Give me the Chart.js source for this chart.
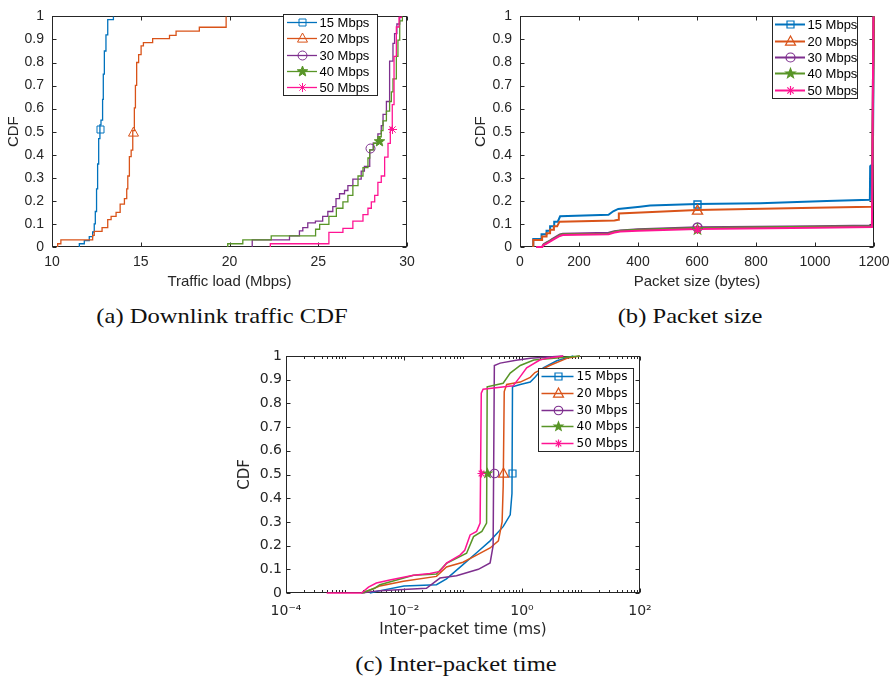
<!DOCTYPE html>
<html><head><meta charset="utf-8">
<script src="https://cdn.jsdelivr.net/npm/chart.js@4/dist/chart.umd.min.js"></script>
<style>
html,body{margin:0;padding:0;background:#fff}
body{width:889px;height:682px;position:relative;overflow:hidden}
canvas{position:absolute;display:block}
.cap{position:absolute;font-family:"Liberation Serif",serif;font-size:21px;line-height:21px;color:#111;white-space:nowrap;transform:translateX(-50%) scaleX(1.17)}
</style></head><body>
<canvas id="ca" width="440" height="300" style="left:0;top:0"></canvas>
<canvas id="cb" width="440" height="300" style="left:460px;top:0"></canvas>
<canvas id="cc" width="440" height="310" style="left:230px;top:340px"></canvas>
<div class="cap" style="left:222px;top:305.5px">(a) Downlink traffic CDF</div>
<div class="cap" style="left:689.5px;top:305.5px">(b) Packet size</div>
<div class="cap" style="left:455.5px;top:654px">(c) Inter-packet time</div>
<script>
// ---------- data ----------
const seriesNames = ['15 Mbps','20 Mbps','30 Mbps','40 Mbps','50 Mbps'];
const yTicks = [0,0.1,0.2,0.3,0.4,0.5,0.6,0.7,0.8,0.9,1];
const trafficTicks = [10,15,20,25,30];
const packetTicks = [0,200,400,600,800,1000,1200];
const interTicks = [1e-4,1e-2,1,1e2];

// (a) Downlink traffic CDF: [Mbps, CDF]
const traffic15 = [[11.54,0],[11.54,0.014],[11.82,0.028],[12.1,0.045],[12.29,0.065],[12.38,0.1],[12.44,0.154],[12.51,0.252],[12.57,0.36],[12.63,0.47],[12.7,0.53],[12.76,0.55],[12.85,0.64],[12.89,0.75],[12.95,0.85],[13.04,0.92],[13.14,0.986],[13.46,1]];
const traffic20 = [[10.32,0],[10.32,0.014],[10.5,0.031],[12.29,0.05],[12.38,0.068],[12.82,0.084],[13.14,0.119],[13.33,0.133],[13.61,0.15],[13.84,0.186],[14.08,0.21],[14.21,0.252],[14.27,0.308],[14.36,0.392],[14.46,0.42],[14.55,0.505],[14.64,0.603],[14.7,0.701],[14.77,0.8],[14.88,0.834],[15.02,0.872],[15.15,0.886],[15.67,0.904],[16.62,0.918],[16.99,0.936],[18.3,0.953],[19.81,1]];
const traffic30 = [[21.28,0],[21.28,0.031],[23.38,0.048],[23.94,0.07],[24.13,0.084],[24.41,0.105],[24.84,0.112],[25.25,0.133],[25.54,0.154],[25.82,0.175],[26.0,0.21],[26.2,0.231],[26.48,0.245],[26.67,0.266],[26.95,0.294],[27.42,0.329],[27.6,0.35],[27.9,0.421],[28.09,0.45],[28.36,0.491],[28.55,0.526],[28.65,0.575],[28.84,0.631],[29.02,0.806],[29.21,0.883],[29.3,0.925],[29.43,0.967],[29.59,1]];
const traffic40 = [[19.9,0],[19.9,0.014],[20.75,0.031],[22.35,0.048],[24.85,0.077],[25.08,0.098],[25.6,0.133],[26.02,0.168],[26.39,0.196],[26.67,0.224],[26.95,0.266],[27.24,0.308],[27.52,0.344],[27.8,0.386],[27.9,0.421],[28.12,0.45],[28.36,0.478],[28.55,0.505],[28.65,0.547],[28.84,0.589],[29.02,0.631],[29.12,0.673],[29.21,0.729],[29.4,0.827],[29.49,0.897],[29.59,0.981],[29.74,1]];
const traffic50 = [[22.3,0],[22.3,0.014],[25.6,0.063],[26.39,0.081],[26.95,0.112],[27.52,0.14],[27.8,0.168],[27.99,0.196],[28.18,0.224],[28.36,0.28],[28.55,0.308],[28.74,0.39],[28.93,0.449],[29.06,0.519],[29.17,0.617],[29.27,0.827],[29.4,0.954],[29.55,0.996],[29.68,1]];
const trafficMarks = [[12.72,0.51],[14.56,0.5],[27.93,0.43],[28.42,0.46],[29.14,0.51]];

// (b) Packet size CDF: [bytes, CDF]
const packet15 = [[45,0],[45,0.035],[73,0.035],[73,0.055],[90,0.055],[90,0.07],[102,0.07],[102,0.09],[116,0.09],[116,0.11],[128,0.11],[136,0.133],[300,0.14],[316,0.155],[333,0.165],[407,0.175],[441,0.18],[600,0.186],[814,0.19],[1040,0.2],[1186,0.205],[1187,0.35],[1196,0.36],[1200,1]];
const packet20 = [[45,0],[45,0.03],[75,0.03],[75,0.045],[90,0.045],[90,0.06],[102,0.06],[102,0.075],[115,0.075],[115,0.09],[126,0.09],[134,0.11],[320,0.115],[333,0.118],[335,0.145],[410,0.15],[600,0.16],[1000,0.17],[1190,0.175],[1193,0.2],[1200,1]];
const packet30 = [[55,0],[75,0],[80,0.012],[90,0.02],[100,0.027],[110,0.035],[120,0.043],[135,0.055],[145,0.058],[300,0.062],[320,0.068],[340,0.072],[400,0.077],[600,0.086],[1000,0.09],[1193,0.093],[1198,1]];
const packet40 = [[55,0],[75,0],[80,0.01],[90,0.018],[100,0.025],[110,0.033],[120,0.04],[135,0.052],[145,0.055],[300,0.058],[320,0.066],[340,0.07],[400,0.075],[600,0.082],[1000,0.088],[1193,0.09],[1198,1]];
const packet50 = [[55,0],[75,0],[80,0.008],[90,0.015],[100,0.022],[110,0.03],[120,0.037],[135,0.048],[145,0.052],[300,0.055],[320,0.063],[340,0.067],[400,0.07],[600,0.078],[1000,0.084],[1193,0.087],[1198,1]];
const packetMarks = [[600,0.186],[600,0.16],[600,0.087],[600,0.08],[600,0.076]];

// (c) Inter-packet time CDF: [ms, CDF]
const inter15 = [[0.00263,0],[0.00398,0.01],[0.01,0.03],[0.0355,0.035],[0.0525,0.06],[0.1,0.12],[0.17,0.17],[0.288,0.22],[0.479,0.28],[0.631,0.33],[0.676,0.42],[0.69,0.87],[0.933,0.88],[1.38,0.89],[1.66,0.91],[2.29,0.95],[3.89,0.98],[7.41,1]];
const inter20 = [[0.00204,0],[0.00316,0.02],[0.0039,0.03],[0.0098,0.05],[0.0355,0.07],[0.0525,0.11],[0.1,0.13],[0.17,0.16],[0.288,0.19],[0.398,0.22],[0.46,0.3],[0.48,0.45],[0.5,0.85],[0.55,0.88],[0.933,0.89],[1.38,0.91],[1.66,0.93],[2.95,0.96],[5.75,0.99],[9.55,1]];
const inter30 = [[0.0019,0],[0.0039,0.01],[0.024,0.02],[0.0407,0.063],[0.0776,0.073],[0.182,0.1],[0.288,0.127],[0.324,0.2],[0.34,0.96],[0.427,0.97],[0.794,0.982],[1.38,0.99],[5.0,1]];
const inter40 = [[0.0019,0],[0.00316,0.02],[0.0039,0.035],[0.0145,0.075],[0.0355,0.08],[0.0525,0.125],[0.115,0.168],[0.151,0.238],[0.209,0.26],[0.251,0.295],[0.257,0.87],[0.479,0.885],[0.631,0.928],[0.933,0.96],[1.585,0.983],[9.55,1]];
const inter50 = [[0.00049,0],[0.0019,0],[0.0025,0.025],[0.0034,0.042],[0.00575,0.055],[0.0145,0.075],[0.0275,0.082],[0.0407,0.091],[0.0525,0.126],[0.089,0.16],[0.107,0.18],[0.132,0.245],[0.17,0.26],[0.195,0.295],[0.204,0.843],[0.219,0.86],[0.708,0.874],[0.933,0.913],[1.2,0.95],[2.0,0.983],[2.63,0.99],[5.0,1]];
const interMarks = [[0.678,0.507],[0.482,0.507],[0.335,0.507],[0.254,0.507],[0.198,0.507]];

// ---------- styles ----------
const colors = ['#0072BD','#D95319','#7E2F8E','#589527','#FF1493'];
const markerStyles = ['square','triangle','circle','star','asterisk'];
const AX = '#262626';

function drawMarker(ctx, style, x, y, s, color, lw) {
  ctx.save();
  ctx.strokeStyle = color; ctx.fillStyle = color; ctx.lineWidth = lw; ctx.lineJoin = 'miter';
  ctx.beginPath();
  const h = s / 2;
  if (style === 'square') { ctx.rect(x - h, y - h, s, s); ctx.stroke(); }
  else if (style === 'triangle') { ctx.moveTo(x, y - h * 1.1); ctx.lineTo(x + h, y + h * 0.72); ctx.lineTo(x - h, y + h * 0.72); ctx.closePath(); ctx.stroke(); }
  else if (style === 'circle') { ctx.arc(x, y, h, 0, Math.PI * 2); ctx.stroke(); }
  else if (style === 'star') {
    for (let k = 0; k < 10; k++) { const r = k % 2 ? h * 0.42 : h; const a = -Math.PI / 2 + k * Math.PI / 5; const px = x + r * Math.cos(a), py = y + r * Math.sin(a); if (k) ctx.lineTo(px, py); else ctx.moveTo(px, py); }
    ctx.closePath(); ctx.fill(); ctx.stroke();
  } else if (style === 'asterisk') {
    for (let k = 0; k < 4; k++) { const a = k * Math.PI / 4; ctx.moveTo(x - h * Math.cos(a), y - h * Math.sin(a)); ctx.lineTo(x + h * Math.cos(a), y + h * Math.sin(a)); }
    ctx.stroke();
  }
  ctx.restore();
}
function boxTicksPlugin(cfg) {
  return {
    id: 'boxTicks',
    beforeDatasetsDraw(chart) {
      const {ctx, chartArea: a} = chart;
      const xs = chart.scales.x, ys = chart.scales.y;
      const L = Math.round(a.left) + 0.5, R = Math.round(a.right) - 0.5, T = Math.round(a.top) + 0.5, B = Math.round(a.bottom) - 0.5;
      ctx.save();
      ctx.strokeStyle = AX; ctx.lineWidth = 1;
      ctx.beginPath();
      const len = cfg.tickLen;
      const vx = (v, l) => { const p = Math.round(xs.getPixelForValue(v)) + 0.5; ctx.moveTo(p, B); ctx.lineTo(p, B - l); ctx.moveTo(p, T); ctx.lineTo(p, T + l); };
      const vy = (v, l) => { const p = Math.round(ys.getPixelForValue(v)) + 0.5; ctx.moveTo(L, p); ctx.lineTo(L + l, p); ctx.moveTo(R, p); ctx.lineTo(R - l, p); };
      xs.ticks.forEach(t => vx(t.value, len));
      ys.ticks.forEach(t => vy(t.value, len));
      if (cfg.logMinor) {
        const majors = xs.ticks.map(t => t.value);
        for (let e = -4; e < 2; e++) for (let k = 1; k <= 9; k++) {
          const v = k * Math.pow(10, e);
          if (majors.some(m => Math.abs(m - v) / v < 1e-6)) continue;
          vx(v, cfg.minorLen);
        }
      }
      ctx.stroke();
      ctx.strokeRect(L, T, R - L, B - T);
      ctx.restore();
    }
  };
}
// markers: drawn at the positions that Chart.js computed for the marker datasets
function markerPlugin(cfg) {
  return {
    id: 'mmarkers',
    afterDatasetsDraw(chart) {
      const ctx = chart.ctx;
      for (let i = 0; i < markerStyles.length; i++) {
        const meta = chart.getDatasetMeta(cfg.first + i);
        const el = meta.data[0];
        if (!el) continue;
        drawMarker(ctx, markerStyles[i], Math.round(el.x) + 0.5, Math.round(el.y) + 0.5, cfg.msize[i], colors[i], cfg.mlw);
      }
    }
  };
}
function legendPlugin(cfg) {
  return {
    id: 'mlegend',
    afterDraw(chart) {
      const ctx = chart.ctx;
      const [x0, y0, x1, y1] = cfg.box;
      ctx.save();
      ctx.fillStyle = '#fff'; ctx.fillRect(x0, y0, x1 - x0, y1 - y0);
      ctx.strokeStyle = AX; ctx.lineWidth = 1; ctx.strokeRect(x0 + 0.5, y0 + 0.5, x1 - x0, y1 - y0);
      const rh = (y1 - y0) / seriesNames.length;
      ctx.font = cfg.font; ctx.textBaseline = 'middle'; ctx.textAlign = 'left';
      seriesNames.forEach((name, i) => {
        const cy = Math.round(y0 + rh * (i + 0.5)) + 0.5;
        ctx.strokeStyle = colors[i]; ctx.lineWidth = cfg.lw;
        ctx.beginPath(); ctx.moveTo(cfg.line[0], cy); ctx.lineTo(cfg.line[1], cy); ctx.stroke();
        drawMarker(ctx, markerStyles[i], Math.round((cfg.line[0] + cfg.line[1]) / 2) + 0.5, cy, cfg.msize[i], colors[i], cfg.mlw);
        ctx.fillStyle = '#000'; ctx.fillText(name, cfg.textX, cy + 0.5);
      });
      ctx.restore();
    }
  };
}
const supMap = {'-':'\u207B','0':'\u2070','1':'\u00B9','2':'\u00B2','3':'\u00B3','4':'\u2074','5':'\u2075','6':'\u2076','7':'\u2077','8':'\u2078','9':'\u2079'};
const powLabel = v => '10' + String(Math.round(Math.log10(v))).split('').map(c => supMap[c]).join('');

function makeChart(id, o) {
  const datasets = o.series.map((pts, i) => ({
    label: seriesNames[i],
    data: pts.map(p => ({x: p[0], y: p[1]})),
    borderColor: colors[i], backgroundColor: colors[i], borderWidth: o.lw,
    pointRadius: 0, pointHoverRadius: 0, stepped: o.stepped, tension: 0, fill: false,
    order: 10 - i, borderJoinStyle: 'miter', clip: 4
  }));
  o.marks.forEach((p, i) => datasets.push({
    label: '', data: [{x: p[0], y: p[1]}], showLine: false,
    pointRadius: 0, pointHoverRadius: 0, order: 0, clip: 10
  }));
  const tickFont = {family: o.font, size: o.tickSize};
  const titleFont = {family: o.font, size: o.titleSize};
  const xTickVals = o.xTicks;
  return new Chart(document.getElementById(id), {
    type: 'line',
    data: {datasets},
    options: {
      responsive: false, animation: false, events: [],
      layout: {padding: o.padding},
      plugins: {legend: {display: false}, tooltip: {enabled: false}},
      scales: {
        x: {
          type: o.xType, min: xTickVals[0], max: xTickVals[xTickVals.length - 1],
          afterBuildTicks: s => { s.ticks = xTickVals.map(v => ({value: v})); },
          afterFit: s => { s.height = o.xH; },
          grid: {display: false, drawTicks: false}, border: {display: false},
          ticks: {autoSkip: false, maxRotation: 0, padding: o.xPad, color: AX, font: tickFont,
                  callback: v => o.xType === 'logarithmic' ? powLabel(v) : String(v)},
          title: {display: true, text: o.xTitle, color: AX, font: titleFont, padding: {top: 0, bottom: 0}}
        },
        y: {
          type: 'linear', min: 0, max: 1,
          afterBuildTicks: s => { s.ticks = yTicks.map(v => ({value: v})); },
          afterFit: s => { s.width = o.yW; },
          grid: {display: false, drawTicks: false}, border: {display: false},
          ticks: {autoSkip: false, padding: o.yPad, color: AX, font: tickFont, callback: v => String(Math.round(v * 10) / 10)},
          title: {display: true, text: 'CDF', color: AX, font: titleFont, padding: {top: o.yTitlePad, bottom: 0}}
        }
      }
    },
    plugins: [boxTicksPlugin(o.ticksCfg), markerPlugin({first: o.series.length, msize: o.msize, mlw: o.mlw}), legendPlugin(o.legend)]
  });
}

makeChart('ca', {
  series: [traffic15, traffic20, traffic30, traffic40, traffic50], marks: trafficMarks,
  stepped: 'before', lw: 1.3, msize: [7, 10, 9, 11, 9], mlw: 1,
  xType: 'linear', xTicks: trafficTicks, xTitle: 'Traffic load (Mbps)',
  font: 'Liberation Sans', tickSize: 14, titleSize: 15,
  padding: {left: 0, top: 9, right: 33, bottom: 9}, yW: 52, xH: 44, xPad: 7, yPad: 8, yTitlePad: 5,
  ticksCfg: {tickLen: 4},
  legend: {box: [283, 14, 377, 95], line: [287, 317], textX: 319.5, font: '13px "Liberation Sans"', lw: 1.3, msize: [7, 10, 9, 11, 9], mlw: 1}
});
makeChart('cb', {
  series: [packet15, packet20, packet30, packet40, packet50], marks: packetMarks,
  stepped: false, lw: 2, msize: [7, 10, 9, 10, 9], mlw: 1.4,
  xType: 'linear', xTicks: packetTicks, xTitle: 'Packet size (bytes)',
  font: 'Liberation Sans', tickSize: 14, titleSize: 15,
  padding: {left: 0, top: 9, right: 26, bottom: 9}, yW: 60, xH: 44, xPad: 7, yPad: 8, yTitlePad: 12,
  ticksCfg: {tickLen: 4},
  legend: {box: [312, 16, 397, 98], line: [315, 345], textX: 347.5, font: '13px "Liberation Sans"', lw: 2, msize: [7, 10, 9, 10, 9], mlw: 1.2}
});
makeChart('cc', {
  series: [inter15, inter20, inter30, inter40, inter50], marks: interMarks,
  stepped: false, lw: 1.5, msize: [7, 10, 8.5, 9, 8], mlw: 1.2,
  xType: 'logarithmic', xTicks: interTicks, xTitle: 'Inter-packet time (ms)',
  font: 'DejaVu Sans', tickSize: 14, titleSize: 15,
  padding: {left: 0, top: 16, right: 30, bottom: 11}, yW: 56, xH: 46, xPad: 10, yPad: 4, yTitlePad: 6,
  ticksCfg: {tickLen: 4, logMinor: true, minorLen: 2.5},
  legend: {box: [308, 28, 403, 111], line: [311.5, 343.5], textX: 346.5, font: '12px "DejaVu Sans"', lw: 1.5, msize: [7, 10, 8.5, 9, 8], mlw: 1.2}
});
</script>
</body></html>
